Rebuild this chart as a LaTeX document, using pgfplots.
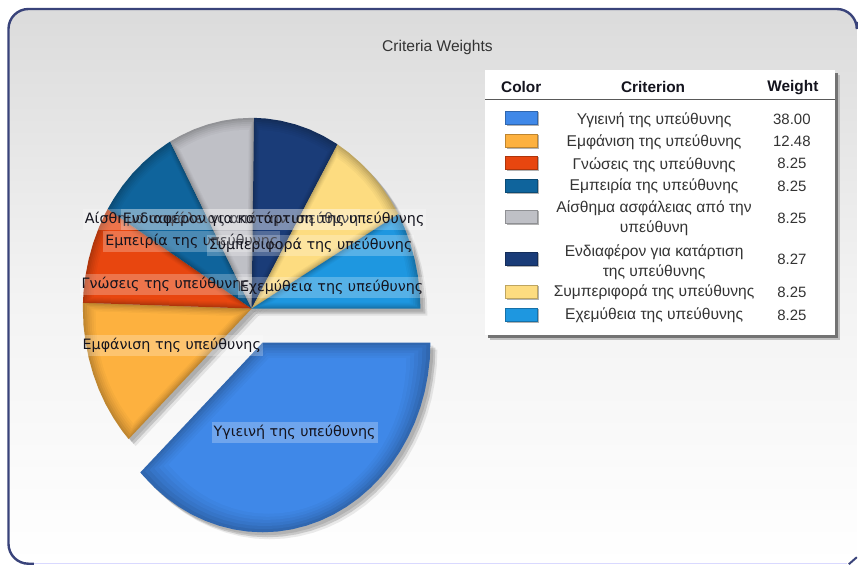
\documentclass[border=0pt]{standalone}
\usepackage{pgfplots}
\pgfplotsset{compat=1.18}
\usepackage{pgfplotstable}
\usepackage{fontspec}
\setmainfont{Liberation Sans}
\newfontfamily\labfont{DejaVu Sans}

\definecolor{cblue}{HTML}{3F88E8}
\definecolor{corange}{HTML}{FDB13F}
\definecolor{cred}{HTML}{E8460F}
\definecolor{cteal}{HTML}{0F649C}
\definecolor{cgrey}{HTML}{BFC0C6}
\definecolor{cnavy}{HTML}{1A3C78}
\definecolor{cyellow}{HTML}{FDDC80}
\definecolor{csky}{HTML}{1E97E0}
\definecolor{ink}{HTML}{14141E}
\definecolor{frame}{HTML}{39437A}

% wedge outlines in picture pixels, y downwards
\pgfplotstableread{
x y
263 343
431 343
430.4 359.6
428.4 376.0
425.3 392.2
420.9 408.0
415.3 423.3
408.5 438.0
400.6 452.0
391.7 465.1
381.8 477.3
371.0 488.5
359.4 498.6
347.0 507.5
334.0 515.2
320.5 521.5
306.5 526.5
292.2 530.1
277.6 532.3
263.0 533.0
248.4 532.3
233.8 530.1
219.5 526.5
205.5 521.5
192.0 515.2
179.0 507.5
166.6 498.6
155.0 488.5
144.2 477.3
140.5 473.1
}\wblue
\pgfplotstableread{
x y
252 309
128.8 439.7
122.5 431.8
113.6 418.6
105.6 404.5
98.8 389.7
93.2 374.3
88.8 358.4
85.6 342.2
83.6 325.7
83.0 309.0
83.1 303.2
}\worange
\pgfplotstableread{
x y
252 309
83.1 303.2
83.6 292.3
85.6 275.8
88.8 259.6
93.2 243.7
98.8 228.3
105.6 213.5
107.8 209.4
}\wred
\pgfplotstableread{
x y
252 309
107.8 209.4
113.6 199.4
122.5 186.2
132.5 173.9
143.4 162.7
155.1 152.5
167.5 143.6
170.4 141.7
}\wteal
\pgfplotstableread{
x y
252 309
170.4 141.7
180.6 135.9
194.2 129.5
208.3 124.5
222.7 120.9
237.3 118.7
252.0 118.0
254.4 118.0
}\wgrey
\pgfplotstableread{
x y
252 309
254.4 118.0
266.7 118.7
281.3 120.9
295.7 124.5
309.8 129.5
323.4 135.9
336.5 143.6
338.0 144.6
}\wnavy
\pgfplotstableread{
x y
252 309
338.0 144.6
348.9 152.5
360.6 162.7
371.5 173.9
381.5 186.2
390.4 199.4
398.4 213.5
398.8 214.4
}\wyellow
\pgfplotstableread{
x y
252 309
398.8 214.4
405.2 228.3
410.8 243.7
415.2 259.6
418.4 275.8
420.4 292.3
421.0 309.0
}\wsky

% soft shadow of a wedge: table
\newcommand{\pieshadow}[1]{%
  \addplot[fill=black,fill opacity=.10,draw=none] table[x expr=\thisrow{x}+3,y expr=\thisrow{y}+3] {#1} --cycle;
  \addplot[fill=black,fill opacity=.14,draw=none] table[x expr=\thisrow{x}+5,y expr=\thisrow{y}+5] {#1} --cycle;
  \addplot[fill=black,fill opacity=.08,draw=none] table[x expr=\thisrow{x}+7,y expr=\thisrow{y}+7] {#1} --cycle;
}
% one inset layer of a wedge: table, colour, centre x, centre y, scale
\newcommand{\pielayer}[5]{%
  \addplot[fill=#2,draw=none] table[x expr=#3+#5*(\thisrow{x}-#3),y expr=#4+#5*(\thisrow{y}-#4)] {#1} --cycle;
}
% wedge with a darker rim: table, colour, inner point x, inner point y
\newcommand{\piewedge}[4]{%
  \pielayer{#1}{#2!76!black}{#3}{#4}{1}
  \pielayer{#1}{#2!81!black}{#3}{#4}{.97}
  \pielayer{#1}{#2!86!black}{#3}{#4}{.94}
  \pielayer{#1}{#2!90!black}{#3}{#4}{.91}
  \pielayer{#1}{#2!94!black}{#3}{#4}{.88}
  \pielayer{#1}{#2!97!black}{#3}{#4}{.85}
  \pielayer{#1}{#2}{#3}{#4}{.82}
}
% colour key of the table: colour, centre y
\newcommand{\colkey}[2]{%
  \addplot[fill=black!50,fill opacity=.6,draw=none] coordinates {(508,#2-5.5) (540,#2-5.5) (540,#2+8.5) (508,#2+8.5)} --cycle;
  \addplot[fill=#1,draw=#1!75!black,line width=.5pt] coordinates {(506,#2-6.5) (538,#2-6.5) (538,#2+6.5) (506,#2+6.5)} --cycle;
}
\newcommand{\pielabel}[3]{%
  \node[fill=#1,fill opacity=.25,text opacity=1,inner xsep=2pt,inner ysep=3.5pt,text=ink,font=\labfont\fontsize{14.3}{16}\selectfont] at (axis cs:#2) {#3};
}

\begin{document}
\begin{tikzpicture}
\begin{axis}[
    width=858pt,height=565pt,scale only axis,
    hide axis,clip=false,
    xmin=0,xmax=858,ymin=0,ymax=565,y dir=reverse,
]
\path[fill=white] (axis cs:0,0) rectangle (axis cs:858,565);
% panel runs off the right and bottom edges of the picture
\path[rounded corners=20pt,top color=black!14,bottom color=white,middle color=black!5]
    (axis cs:858,565) -- (axis cs:8.5,565) -- (axis cs:8.5,9) -- (axis cs:858,9) [sharp corners] -- cycle;
\draw[frame,line width=2.4pt,rounded corners=20pt]
    (axis cs:34,564.5) -- (axis cs:8.5,564.5) -- (axis cs:8.5,9) -- (axis cs:858,9) -- (axis cs:858,22);
\draw[blue!15,line width=1.2pt] (axis cs:34,564.4) -- (axis cs:848,564.4);
\draw[frame,line width=2pt] (axis cs:850,565) -- (axis cs:858,558);

\node[font=\fontsize{15.6}{17}\selectfont,text=black!80] at (axis cs:438,47.5) {Criteria Weights};

\pieshadow{\wblue}
\pieshadow{\worange}
\pieshadow{\wred}
\pieshadow{\wteal}
\pieshadow{\wgrey}
\pieshadow{\wnavy}
\pieshadow{\wyellow}
\pieshadow{\wsky}

\piewedge{\wblue}{cblue}{297}{430}
\piewedge{\worange}{corange}{154}{351}
\piewedge{\wred}{cred}{144}{272}
\piewedge{\wteal}{cteal}{174}{216}
\piewedge{\wgrey}{cgrey}{225}{185}
\piewedge{\wnavy}{cnavy}{283}{186}
\piewedge{\wyellow}{cyellow}{333}{219}
\piewedge{\wsky}{csky}{361}{276}

\pielabel{white}{295,433}{Υγιεινή της υπεύθυνης}
\pielabel{white}{172,346}{Εμφάνιση της υπεύθυνης}
\pielabel{white}{166,285}{Γνώσεις της υπεύθυνης}
\pielabel{white}{192,242}{Εμπειρία της υπεύθυνης}
\pielabel{white}{222,220}{Αίσθημα ασφάλειας από την υπεύθυνη}
\pielabel{white}{274,220}{Ενδιαφέρον για κατάρτιση της υπεύθυνης}
\pielabel{white}{311,246}{Συμπεριφορά της υπεύθυνης}
\pielabel{white}{332,288}{Εχεμύθεια της υπεύθυνης}

% table panel
\path[fill=black!25] (axis cs:491,75) rectangle (axis cs:841,340);
\path[fill=black!55] (axis cs:489,73) rectangle (axis cs:839,338);
\path[fill=white] (axis cs:486,70) rectangle (axis cs:836,335);
\path[draw=black!65,line width=.8pt] (axis cs:486,100) -- (axis cs:836,100);
\begin{scope}[font=\bfseries\fontsize{15.4}{17}\selectfont,text=ink]
\node at (axis cs:522,87) {Color};
\node at (axis cs:654,87) {Criterion};
\node at (axis cs:794,88) {Weight};
\end{scope}

\colkey{cblue}{118}
\colkey{corange}{141}
\colkey{cred}{163}
\colkey{cteal}{186}
\colkey{cgrey}{217}
\colkey{cnavy}{259}
\colkey{cyellow}{292}
\colkey{csky}{315}

\begin{scope}[font=\fontsize{15.6}{20}\selectfont,text=black!80]
\node at (axis cs:655,120) {Υγιεινή της υπεύθυνης};
\node at (axis cs:655,142) {Εμφάνιση της υπεύθυνης};
\node at (axis cs:655,165) {Γνώσεις της υπεύθυνης};
\node at (axis cs:655,187) {Εμπειρία της υπεύθυνης};
\node[align=center] at (axis cs:655,219) {Αίσθημα ασφάλειας από την\\υπεύθυνη};
\node[align=center] at (axis cs:655,263) {Ενδιαφέρον για κατάρτιση\\της υπεύθυνης};
\node at (axis cs:655,293) {Συμπεριφορά της υπεύθυνης};
\node at (axis cs:655,316) {Εχεμύθεια της υπεύθυνης};
\end{scope}
\begin{scope}[font=\fontsize{15}{17}\selectfont,text=black!80]
\node at (axis cs:793,120) {38.00};
\node at (axis cs:793,142) {12.48};
\node at (axis cs:793,164) {8.25};
\node at (axis cs:793,187) {8.25};
\node at (axis cs:793,219) {8.25};
\node at (axis cs:793,260) {8.27};
\node at (axis cs:793,293) {8.25};
\node at (axis cs:793,316) {8.25};
\end{scope}
\end{axis}
\end{tikzpicture}
\end{document}
